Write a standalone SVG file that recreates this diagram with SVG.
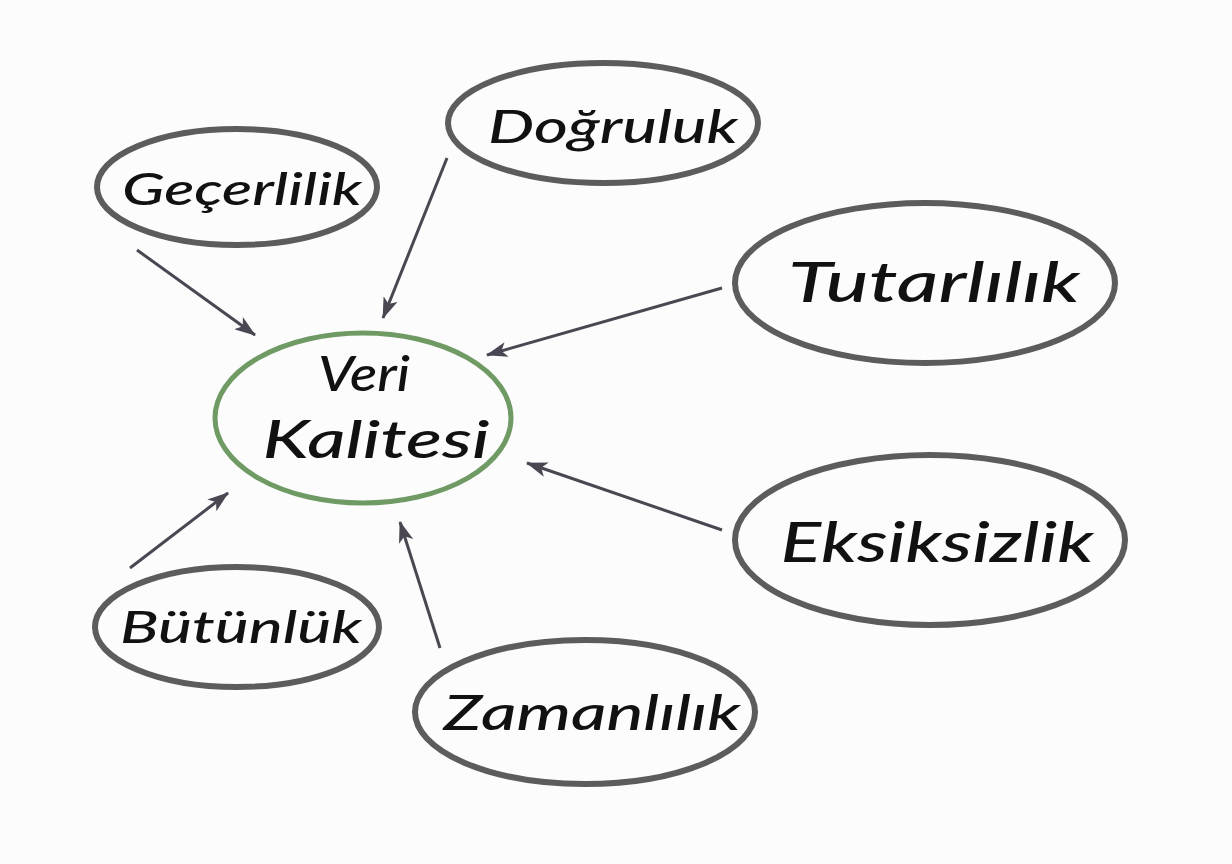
<svg xmlns="http://www.w3.org/2000/svg" width="1232" height="864" viewBox="0 0 1232 864">
<defs>
<marker id="ah" viewBox="0 0 20 14" refX="19" refY="7" markerWidth="22" markerHeight="15" markerUnits="userSpaceOnUse" orient="auto">
<path d="M0,0 L20,7 L0,14 L5,7 Z" fill="#4a4652"/>
</marker>
<style>
.bub{fill:none;stroke:#5c5c5c;stroke-width:6;stroke-linecap:round}
.main{fill:none;stroke:#6f9a64;stroke-width:5;stroke-linecap:round}
.lbl{font-family:"Lato","Noto Sans",sans-serif;font-style:italic;font-weight:500;fill:#111;text-anchor:middle}
.con{stroke:#4a4652;stroke-width:3;fill:none;marker-end:url(#ah)}
</style>
</defs>
<rect width="1232" height="864" fill="#fcfcfc"/>
<g id="connectors">
<line class="con" x1="137" y1="250" x2="255" y2="335"/>
<line class="con" x1="447" y1="158" x2="383" y2="318"/>
<line class="con" x1="722" y1="288" x2="487" y2="355"/>
<line class="con" x1="722" y1="530" x2="527" y2="463"/>
<line class="con" x1="130" y1="568" x2="228" y2="493"/>
<line class="con" x1="440" y1="648" x2="400" y2="522"/>
</g>
<g id="veri-kalitesi">
<ellipse class="main" cx="363" cy="418" rx="148" ry="85"/>
<text class="lbl" x="364" y="391" font-size="48" textLength="92" lengthAdjust="spacingAndGlyphs">Veri</text>
<text class="lbl" x="376" y="458" font-size="52" textLength="227" lengthAdjust="spacingAndGlyphs">Kalitesi</text>
</g>
<g id="gecerlilik">
<ellipse class="bub" cx="237" cy="187" rx="140" ry="58"/>
<text class="lbl" x="242" y="205" font-size="44" textLength="240" lengthAdjust="spacingAndGlyphs">Geçerlilik</text>
</g>
<g id="dogruluk">
<ellipse class="bub" cx="603" cy="123" rx="155" ry="60"/>
<text class="lbl" x="613" y="143" font-size="46" textLength="250" lengthAdjust="spacingAndGlyphs">Doğruluk</text>
</g>
<g id="tutarlilik">
<ellipse class="bub" cx="925" cy="283" rx="190" ry="80"/>
<text class="lbl" x="934" y="302" font-size="56" textLength="292" lengthAdjust="spacingAndGlyphs">Tutarlılık</text>
</g>
<g id="eksiksizlik">
<ellipse class="bub" cx="930" cy="540" rx="195" ry="85"/>
<text class="lbl" x="937" y="562" font-size="56" textLength="313" lengthAdjust="spacingAndGlyphs">Eksiksizlik</text>
</g>
<g id="butunluk">
<ellipse class="bub" cx="237" cy="627" rx="142" ry="60"/>
<text class="lbl" x="241" y="643" font-size="44" textLength="242" lengthAdjust="spacingAndGlyphs">Bütünlük</text>
</g>
<g id="zamanlilik">
<ellipse class="bub" cx="585" cy="712" rx="170" ry="72"/>
<text class="lbl" x="592" y="730" font-size="48" textLength="297" lengthAdjust="spacingAndGlyphs">Zamanlılık</text>
</g>
</svg>
